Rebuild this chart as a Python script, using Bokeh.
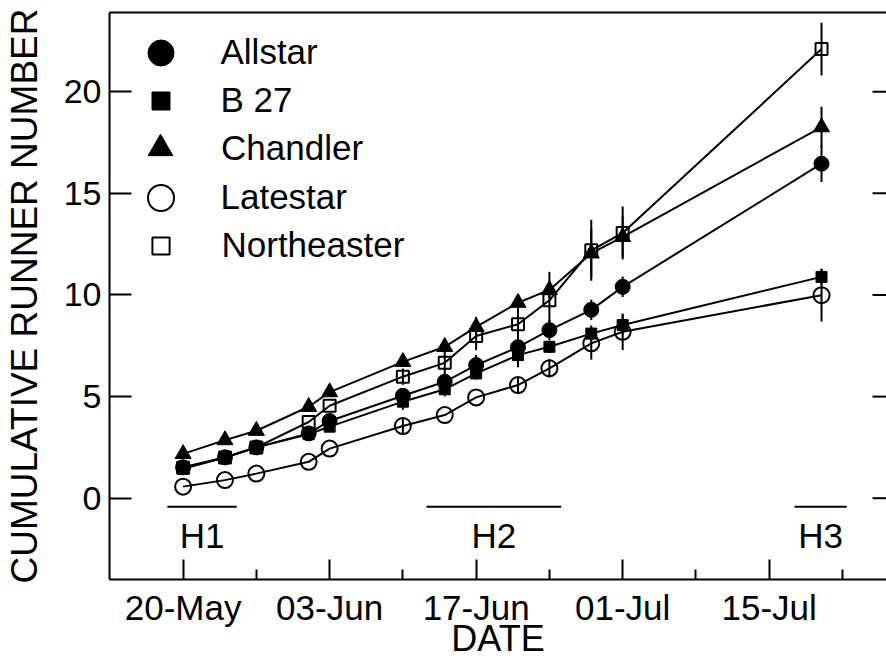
import numpy as np
import pandas as pd
from bokeh.plotting import figure
from bokeh.models import (Range1d, LinearAxis, FixedTicker, DatetimeTickFormatter,
                          Legend, LegendItem)
from bokeh.core.properties import value
from bokeh.embed import file_html
from bokeh.resources import INLINE

# ---------------- data ----------------
dates = ["2000-05-20", "2000-05-24", "2000-05-27", "2000-06-01", "2000-06-03",
         "2000-06-10", "2000-06-14", "2000-06-17", "2000-06-21", "2000-06-24",
         "2000-06-28", "2000-07-01", "2000-07-20"]

allstar = [1.52, 2.01, 2.50, 3.19, 3.80, 5.04, 5.73, 6.55, 7.43, 8.27, 9.27, 10.40, 16.46]
allstar_err = [0.2, 0.2, 0.2, 0.2, 0.2, 0.3, 0.4, 0.5, 0.5, 0.5, 0.5, 0.5, 0.9]

b27 = [1.45, 2.00, 2.50, 3.15, 3.52, 4.75, 5.36, 6.14, 7.04, 7.45, 8.10, 8.52, 10.89]
b27_err = [0.2, 0.2, 0.2, 0.2, 0.2, 0.4, 0.35, 0.3, 0.6, 0.3, 0.4, 0.5, 0.4]

chandler = [2.18, 2.86, 3.32, 4.50, 5.22, 6.71, 7.45, 8.43, 9.62, 10.25, 12.05, 12.86, 18.26]
chandler_err = [0.2, 0.2, 0.2, 0.2, 0.2, 0.2, 0.2, 0.5, 0.3, 0.4, 1.2, 1.0, 1.0]

latestar = [0.57, 0.89, 1.21, 1.79, 2.44, 3.55, 4.09, 4.96, 5.57, 6.39, 7.62, 8.19, 9.99]
latestar_err = [0, 0, 0, 0, 0, 0.4, 0, 0, 0.4, 0.45, 0.8, 0.9, 1.3]

northeaster = [1.50, 2.00, 2.50, 3.75, 4.55, 5.98, 6.66, 7.98, 8.56, 9.74, 12.20, 13.05, 22.10]
northeaster_err = [0, 0, 0, 0, 0, 0.4, 0.55, 0.7, 0.8, 1.4, 1.5, 1.3, 1.3]

series_names = ["Allstar", "B 27", "Chandler", "Latestar", "Northeaster"]

x_tick_dates = ["2000-05-20", "2000-06-03", "2000-06-17", "2000-07-01", "2000-07-15"]
x_minor_dates = ["2000-05-27", "2000-06-10", "2000-06-24", "2000-07-08", "2000-07-22"]
y_ticks = [0, 5, 10, 15, 20]

harvest_labels = ["H1", "H2", "H3"]
harvest_start = ["2000-05-18 12:00", "2000-06-12 06:00", "2000-07-17 10:00"]
harvest_end = ["2000-05-25 03:00", "2000-06-25 03:00", "2000-07-22 10:00"]

X_START = pd.Timestamp("2000-05-12 23:15")
X_END = pd.Timestamp("2000-07-26 05:00")
Y_START, Y_END = -4.0, 23.9

# ---------------- layout constants ----------------
W, H = 886, 661
BL, BR, BT, BB = 108, 0, 12, 82
FRAME_H = H - BT - BB
FONT = "Liberation Sans"

x = pd.to_datetime(dates)
def ms(d):
    return pd.Timestamp(d).value / 1e6

p = figure(width=W, height=H, x_axis_type="datetime",
           x_range=Range1d(X_START, X_END), y_range=Range1d(Y_START, Y_END),
           output_backend="svg", toolbar_location=None,
           min_border_left=BL, min_border_right=BR, min_border_top=BT, min_border_bottom=BB)
p.xgrid.visible = False
p.ygrid.visible = False
p.outline_line_color = None
p.background_fill_color = "white"
p.border_fill_color = "white"

# bottom axis
xa = p.xaxis[0]
xa.ticker = FixedTicker(ticks=[ms(d) for d in x_tick_dates],
                        minor_ticks=[ms(d) for d in x_minor_dates])
fmt = "%d-%b"
xa.formatter = DatetimeTickFormatter(microseconds=fmt, milliseconds=fmt, seconds=fmt,
                                     minsec=fmt, minutes=fmt, hourmin=fmt, hours=fmt,
                                     days=fmt, months=fmt, years=fmt)
xa.major_tick_in = 20
xa.major_tick_out = 0
xa.minor_tick_in = 10
xa.minor_tick_out = 0
xa.axis_line_width = 2
xa.major_tick_line_width = 2
xa.minor_tick_line_width = 2
xa.major_label_text_font = FONT
xa.major_label_text_font_size = "35px"
xa.major_label_text_color = "black"
xa.major_label_standoff = 8
xa.axis_label = "DATE"
xa.axis_label_text_font = FONT
xa.axis_label_text_font_size = "36px"
xa.axis_label_text_font_style = "normal"
xa.axis_label_text_color = "black"
xa.axis_label_standoff = -12

# left axis
ya = p.yaxis[0]
ya.ticker = FixedTicker(ticks=y_ticks, minor_ticks=[])
ya.major_tick_in = 22
ya.major_tick_out = 0
ya.minor_tick_line_color = None
ya.axis_line_width = 2
ya.major_tick_line_width = 2
ya.major_label_text_font = FONT
ya.major_label_text_font_size = "34px"
ya.major_label_text_color = "black"
ya.major_label_standoff = 8
ya.axis_label = "CUMULATIVE RUNNER NUMBER"
ya.axis_label_text_font = FONT
ya.axis_label_text_font_size = "37px"
ya.axis_label_text_font_style = "normal"
ya.axis_label_text_color = "black"
ya.axis_label_standoff = 16

# top axis: frame line only
ta = LinearAxis(ticker=FixedTicker(ticks=[], minor_ticks=[]),
                major_tick_in=0, major_tick_out=0, minor_tick_line_color=None,
                major_tick_line_color=None, axis_line_width=2, major_label_standoff=0)
p.add_layout(ta, "above")

# right-hand inward tick marks (frame edge sits at the window edge)
p.scatter(x=[X_END] * len(y_ticks), y=y_ticks, marker="dash", size=28,
          line_color="black", line_width=2)

# ---------------- data marks ----------------
vals = [allstar, b27, chandler, latestar, northeaster]
errs = [allstar_err, b27_err, chandler_err, latestar_err, northeaster_err]
styles = [
    dict(marker="circle", size=15, fill_color="black", line_color="black", line_width=1),
    dict(marker="square", size=11, fill_color="black", line_color="black", line_width=1),
    dict(marker="triangle", size=16, fill_color="black", line_color="black", line_width=1),
    dict(marker="circle", size=16, fill_color=None, line_color="black", line_width=2),
    dict(marker="square", size=12, fill_color=None, line_color="black", line_width=2),
]

for v in vals:
    p.line(x=x, y=v, line_color="black", line_width=2)

for v, e in zip(vals, errs):
    v = np.asarray(v); e = np.asarray(e)
    p.segment(x0=x, y0=v - e, x1=x, y1=v + e, line_color="black", line_width=2)

scatter_r = []
for v, st in zip(vals, styles):
    scatter_r.append(p.scatter(x=x, y=v, **st))

# harvest periods
hs = pd.to_datetime(harvest_start)
he = pd.to_datetime(harvest_end)
hm = hs + (he - hs) / 2
p.segment(x0=hs, y0=-0.42, x1=he, y1=-0.42, line_color="black", line_width=2)
p.text(x=hm, y=-1.85, text=harvest_labels, text_align="center", text_baseline="middle",
       text_font=value(FONT), text_font_size="35px", text_color="black")

# ---------------- legend (one per entry so symbol sizes differ) ----------------
leg_glyph = [65, 45, 62, 65, 43]
leg_cy = [40, 88, 136, 185, 233]   # centre of each row from frame top (px)
LEG_X = 51                          # symbol centre from frame left (px)
LEG_TEXT_X = 112                    # text start from frame left (px)
for name, r, g, cy in zip(series_names, scatter_r, leg_glyph, leg_cy):
    lg = Legend(items=[LegendItem(label=name, renderers=[r])],
                location=(LEG_X - g / 2, FRAME_H - cy - g / 2),
                glyph_width=g, glyph_height=g,
                label_standoff=int(round(LEG_TEXT_X - LEG_X - g / 2)),
                padding=0, margin=0, spacing=0,
                border_line_color=None, background_fill_alpha=0,
                label_text_font=FONT, label_text_font_size="35px",
                label_text_color="black")
    p.add_layout(lg)

open("out.html", "w").write(file_html(p, INLINE))
